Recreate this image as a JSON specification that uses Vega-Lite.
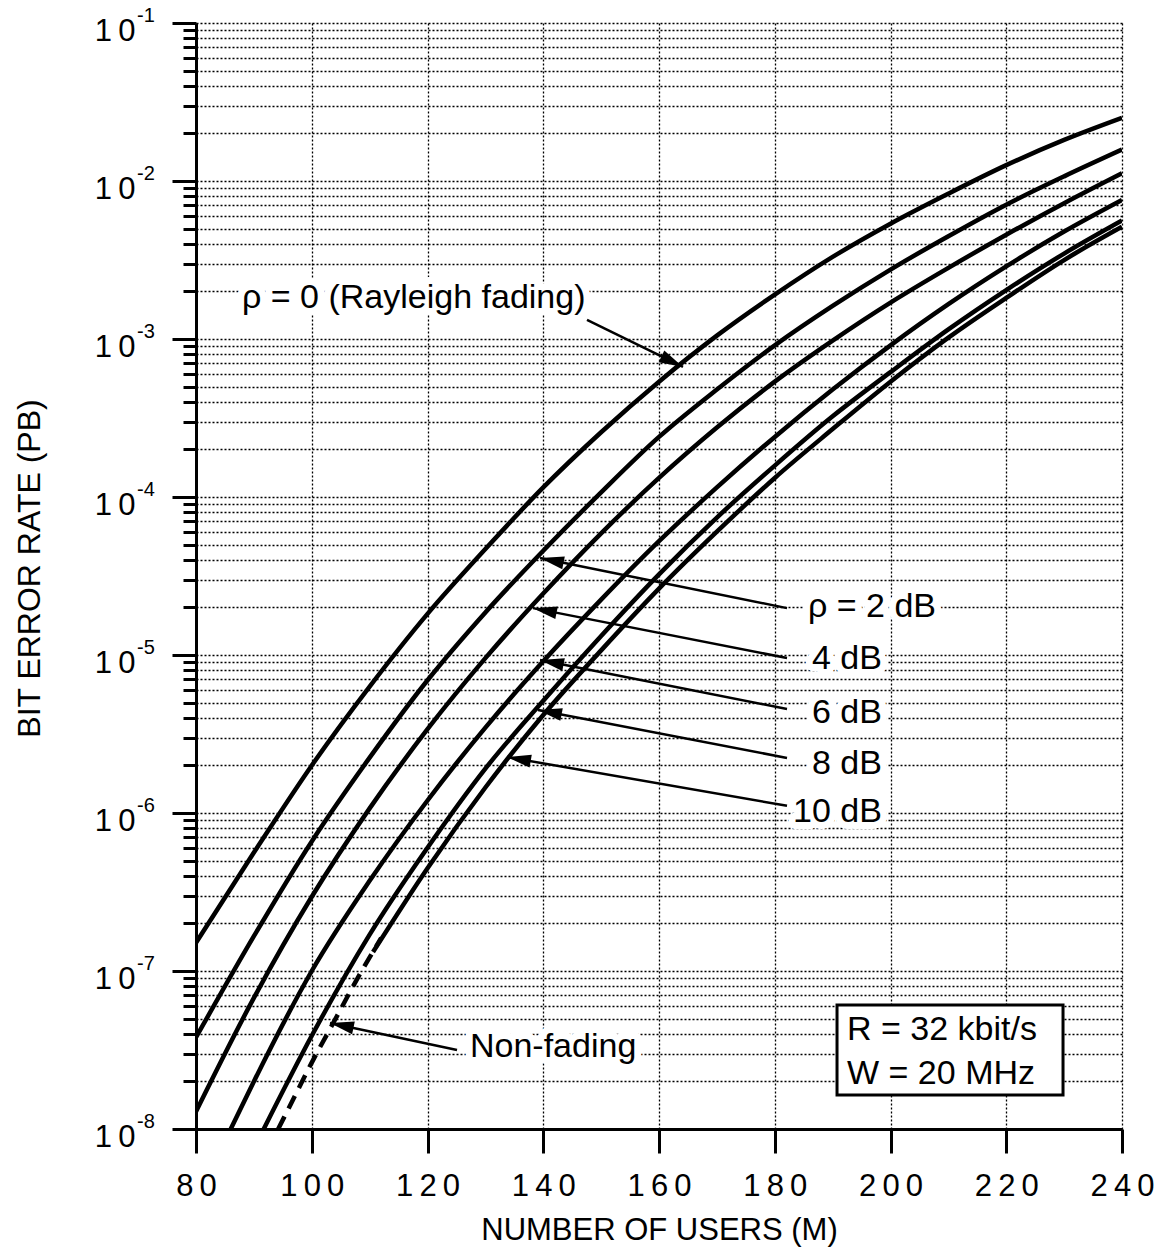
{
  "$schema": "https://vega.github.io/schema/vega-lite/v6.json",
  "width": 926,
  "height": 1106,
  "autosize": {"type": "none"},
  "padding": {"left": 196, "top": 23, "right": 48, "bottom": 125},
  "background": "white",
  "config": {"view": {"stroke": null}, "font": "Liberation Sans"},
  "datasets": {
    "curves": [
      {"s": "Rayleigh", "M": 80, "P": 1.51e-7},
      {"s": "Rayleigh", "M": 90, "P": 5.62e-7},
      {"s": "Rayleigh", "M": 100, "P": 2.00e-6},
      {"s": "Rayleigh", "M": 110, "P": 6.31e-6},
      {"s": "Rayleigh", "M": 120, "P": 1.82e-5},
      {"s": "Rayleigh", "M": 130, "P": 4.68e-5},
      {"s": "Rayleigh", "M": 140, "P": 1.15e-4},
      {"s": "Rayleigh", "M": 150, "P": 2.57e-4},
      {"s": "Rayleigh", "M": 160, "P": 5.37e-4},
      {"s": "Rayleigh", "M": 170, "P": 1.05e-3},
      {"s": "Rayleigh", "M": 180, "P": 1.91e-3},
      {"s": "Rayleigh", "M": 190, "P": 3.31e-3},
      {"s": "Rayleigh", "M": 200, "P": 5.37e-3},
      {"s": "Rayleigh", "M": 210, "P": 8.32e-3},
      {"s": "Rayleigh", "M": 220, "P": 1.26e-2},
      {"s": "Rayleigh", "M": 230, "P": 1.82e-2},
      {"s": "Rayleigh", "M": 240, "P": 2.51e-2},
      {"s": "2 dB", "M": 80, "P": 3.80e-8},
      {"s": "2 dB", "M": 90, "P": 1.66e-7},
      {"s": "2 dB", "M": 100, "P": 6.61e-7},
      {"s": "2 dB", "M": 110, "P": 2.24e-6},
      {"s": "2 dB", "M": 120, "P": 6.92e-6},
      {"s": "2 dB", "M": 130, "P": 1.86e-5},
      {"s": "2 dB", "M": 140, "P": 4.57e-5},
      {"s": "2 dB", "M": 150, "P": 1.07e-4},
      {"s": "2 dB", "M": 160, "P": 2.40e-4},
      {"s": "2 dB", "M": 170, "P": 4.79e-4},
      {"s": "2 dB", "M": 180, "P": 9.12e-4},
      {"s": "2 dB", "M": 190, "P": 1.62e-3},
      {"s": "2 dB", "M": 200, "P": 2.75e-3},
      {"s": "2 dB", "M": 210, "P": 4.47e-3},
      {"s": "2 dB", "M": 220, "P": 7.08e-3},
      {"s": "2 dB", "M": 230, "P": 1.07e-2},
      {"s": "2 dB", "M": 240, "P": 1.58e-2},
      {"s": "4 dB", "M": 80, "P": 1.29e-8},
      {"s": "4 dB", "M": 90, "P": 6.76e-8},
      {"s": "4 dB", "M": 100, "P": 2.95e-7},
      {"s": "4 dB", "M": 110, "P": 1.07e-6},
      {"s": "4 dB", "M": 120, "P": 3.39e-6},
      {"s": "4 dB", "M": 130, "P": 9.55e-6},
      {"s": "4 dB", "M": 140, "P": 2.45e-5},
      {"s": "4 dB", "M": 150, "P": 5.89e-5},
      {"s": "4 dB", "M": 160, "P": 1.32e-4},
      {"s": "4 dB", "M": 170, "P": 2.75e-4},
      {"s": "4 dB", "M": 180, "P": 5.37e-4},
      {"s": "4 dB", "M": 190, "P": 9.77e-4},
      {"s": "4 dB", "M": 200, "P": 1.70e-3},
      {"s": "4 dB", "M": 210, "P": 2.82e-3},
      {"s": "4 dB", "M": 220, "P": 4.57e-3},
      {"s": "4 dB", "M": 230, "P": 7.24e-3},
      {"s": "4 dB", "M": 240, "P": 1.12e-2},
      {"s": "6 dB", "M": 86, "P": 1.00e-8},
      {"s": "6 dB", "M": 90, "P": 2.00e-8},
      {"s": "6 dB", "M": 100, "P": 1.00e-7},
      {"s": "6 dB", "M": 110, "P": 3.72e-7},
      {"s": "6 dB", "M": 120, "P": 1.20e-6},
      {"s": "6 dB", "M": 130, "P": 3.47e-6},
      {"s": "6 dB", "M": 140, "P": 9.12e-6},
      {"s": "6 dB", "M": 150, "P": 2.24e-5},
      {"s": "6 dB", "M": 160, "P": 5.25e-5},
      {"s": "6 dB", "M": 170, "P": 1.15e-4},
      {"s": "6 dB", "M": 180, "P": 2.40e-4},
      {"s": "6 dB", "M": 190, "P": 4.79e-4},
      {"s": "6 dB", "M": 200, "P": 9.12e-4},
      {"s": "6 dB", "M": 210, "P": 1.66e-3},
      {"s": "6 dB", "M": 220, "P": 2.88e-3},
      {"s": "6 dB", "M": 230, "P": 4.79e-3},
      {"s": "6 dB", "M": 240, "P": 7.59e-3},
      {"s": "8 dB", "M": 91.7, "P": 1.00e-8},
      {"s": "8 dB", "M": 100, "P": 3.89e-8},
      {"s": "8 dB", "M": 110, "P": 1.70e-7},
      {"s": "8 dB", "M": 120, "P": 6.03e-7},
      {"s": "8 dB", "M": 130, "P": 1.91e-6},
      {"s": "8 dB", "M": 140, "P": 5.13e-6},
      {"s": "8 dB", "M": 150, "P": 1.32e-5},
      {"s": "8 dB", "M": 160, "P": 3.24e-5},
      {"s": "8 dB", "M": 170, "P": 7.41e-5},
      {"s": "8 dB", "M": 180, "P": 1.58e-4},
      {"s": "8 dB", "M": 190, "P": 3.24e-4},
      {"s": "8 dB", "M": 200, "P": 6.17e-4},
      {"s": "8 dB", "M": 210, "P": 1.15e-3},
      {"s": "8 dB", "M": 220, "P": 2.04e-3},
      {"s": "8 dB", "M": 230, "P": 3.47e-3},
      {"s": "8 dB", "M": 240, "P": 5.62e-3},
      {"s": "10 dB", "M": 110.6, "P": 1.32e-7},
      {"s": "10 dB", "M": 120, "P": 4.47e-7},
      {"s": "10 dB", "M": 130, "P": 1.45e-6},
      {"s": "10 dB", "M": 140, "P": 4.17e-6},
      {"s": "10 dB", "M": 150, "P": 1.07e-5},
      {"s": "10 dB", "M": 160, "P": 2.63e-5},
      {"s": "10 dB", "M": 170, "P": 6.03e-5},
      {"s": "10 dB", "M": 180, "P": 1.32e-4},
      {"s": "10 dB", "M": 190, "P": 2.69e-4},
      {"s": "10 dB", "M": 200, "P": 5.37e-4},
      {"s": "10 dB", "M": 210, "P": 1.02e-3},
      {"s": "10 dB", "M": 220, "P": 1.82e-3},
      {"s": "10 dB", "M": 230, "P": 3.16e-3},
      {"s": "10 dB", "M": 240, "P": 5.13e-3},
      {"s": "Non-fading", "M": 94.2, "P": 1.00e-8},
      {"s": "Non-fading", "M": 96, "P": 1.35e-8},
      {"s": "Non-fading", "M": 100, "P": 2.63e-8},
      {"s": "Non-fading", "M": 104, "P": 4.90e-8},
      {"s": "Non-fading", "M": 108, "P": 9.12e-8},
      {"s": "Non-fading", "M": 112, "P": 1.62e-7}
    ],
    "arrows": [
      {"a": "Rayleigh", "M": 147.56, "P": 1.32e-3, "M2": 164.15, "P2": 6.65e-4},
      {"a": "2 dB", "M": 182.12, "P": 1.98e-5, "M2": 139.44, "P2": 4.11e-5},
      {"a": "4 dB", "M": 182.12, "P": 9.57e-6, "M2": 138.23, "P2": 1.98e-5},
      {"a": "6 dB", "M": 182.12, "P": 4.55e-6, "M2": 139.44, "P2": 9.29e-6},
      {"a": "8 dB", "M": 182.12, "P": 2.23e-6, "M2": 139.09, "P2": 4.49e-6},
      {"a": "10 dB", "M": 182.12, "P": 1.11e-6, "M2": 133.74, "P2": 2.26e-6},
      {"a": "Non-fading", "M": 125.10, "P": 3.16e-8, "M2": 103.15, "P2": 4.69e-8}
    ],
    "labels": [
      {"t": "ρ = 0 (Rayleigh fading)", "M": 87.95, "P": 1.82e-3},
      {"t": "ρ = 2 dB", "M": 185.74, "P": 2.01e-5},
      {"t": "4 dB", "M": 186.43, "P": 9.44e-6},
      {"t": "6 dB", "M": 186.43, "P": 4.30e-6},
      {"t": "8 dB", "M": 186.43, "P": 2.04e-6},
      {"t": "10 dB", "M": 183.15, "P": 1.01e-6},
      {"t": "Non-fading", "M": 127.34, "P": 3.30e-8},
      {"t": "R = 32 kbit/s", "M": 192.49, "P": 4.24e-8},
      {"t": "W = 20 MHz", "M": 192.49, "P": 2.23e-8}
    ],
    "exps": [
      {"P": 0.1, "e": "-1"},
      {"P": 0.01, "e": "-2"},
      {"P": 0.001, "e": "-3"},
      {"P": 0.0001, "e": "-4"},
      {"P": 1e-5, "e": "-5"},
      {"P": 1e-6, "e": "-6"},
      {"P": 1e-7, "e": "-7"},
      {"P": 1e-8, "e": "-8"}
    ],
    "box": [
      {"M": 190.76, "M2": 229.81, "P": 6.10e-8, "P2": 1.64e-8}
    ]
  },
  "layer": [
    {
      "data": {"name": "curves"},
      "transform": [{"filter": "datum.s !== 'Non-fading'"}],
      "mark": {"type": "line", "color": "black", "strokeWidth": 4.5, "interpolate": "monotone", "clip": true},
      "encoding": {
        "x": {
          "field": "M", "type": "quantitative",
          "scale": {"domain": [80, 240], "nice": false, "zero": false},
          "axis": {
            "values": [80, 100, 120, 140, 160, 180, 200, 220, 240],
            "title": "NUMBER OF USERS (M)",
            "titleFont": "Liberation Sans", "titleFontSize": 31, "titleFontWeight": "normal", "titleColor": "black", "titlePadding": 14,
            "labelFont": "Liberation Sans", "labelFontSize": 31, "labelColor": "black", "labelPadding": 18,
            "labelExpr": "length(datum.label) == 2 ? slice(datum.label, 0, 1) + '\u2009' + slice(datum.label, 1) : slice(datum.label, 0, 1) + '\u2009' + slice(datum.label, 1, 2) + '\u2009' + slice(datum.label, 2)",
            "labelFlush": false, "labelOverlap": false,
            "tickSize": 24, "tickWidth": 3, "tickColor": "black",
            "domainWidth": 3, "domainColor": "black",
            "grid": true, "gridColor": "black", "gridDash": [2, 2], "gridWidth": 1.3, "gridOpacity": 1
          }
        },
        "y": {
          "field": "P", "type": "quantitative",
          "scale": {"type": "log", "domain": [1e-8, 0.1], "nice": false},
          "axis": {
            "values": [1e-8, 2e-8, 3e-8, 4e-8, 5e-8, 6e-8, 7e-8, 8e-8, 9e-8,
                       1e-7, 2e-7, 3e-7, 4e-7, 5e-7, 6e-7, 7e-7, 8e-7, 9e-7,
                       1e-6, 2e-6, 3e-6, 4e-6, 5e-6, 6e-6, 7e-6, 8e-6, 9e-6,
                       1e-5, 2e-5, 3e-5, 4e-5, 5e-5, 6e-5, 7e-5, 8e-5, 9e-5,
                       1e-4, 2e-4, 3e-4, 4e-4, 5e-4, 6e-4, 7e-4, 8e-4, 9e-4,
                       1e-3, 2e-3, 3e-3, 4e-3, 5e-3, 6e-3, 7e-3, 8e-3, 9e-3,
                       0.01, 0.02, 0.03, 0.04, 0.05, 0.06, 0.07, 0.08, 0.09, 0.1],
            "title": "BIT ERROR RATE (PB)",
            "titleFont": "Liberation Sans", "titleFontSize": 32, "titleFontWeight": "normal", "titleColor": "black",
            "titleX": -150, "titleY": 545, "titleBaseline": "bottom",
            "labelFont": "Liberation Sans", "labelFontSize": 31, "labelColor": "black", "labelPadding": 37,
            "labelOffset": 8, "labelOverlap": false, "labelFlush": false,
            "labelExpr": "abs(log(datum.value) / LN10 - round(log(datum.value) / LN10)) > 0.01 ? '' : '1\u20090'",
            "tickSize": {"condition": {"test": "abs(log(datum.value) / LN10 - round(log(datum.value) / LN10)) < 0.01", "value": 24}, "value": 13},
            "tickWidth": 3, "tickColor": "black",
            "domainWidth": 3, "domainColor": "black",
            "grid": true, "gridColor": "black", "gridDash": [2, 2], "gridWidth": 1.3, "gridOpacity": 1
          }
        },
        "detail": {"field": "s"}
      }
    },
    {
      "data": {"name": "curves"},
      "transform": [{"filter": "datum.s === 'Non-fading'"}],
      "mark": {"type": "line", "color": "black", "strokeWidth": 4.5, "strokeDash": [14, 9], "interpolate": "monotone", "clip": true},
      "encoding": {
        "x": {"field": "M", "type": "quantitative"},
        "y": {"field": "P", "type": "quantitative"}
      }
    },
    {
      "data": {"name": "box"},
      "mark": {"type": "rect", "fill": "white", "stroke": "black", "strokeWidth": 3},
      "encoding": {
        "x": {"field": "M", "type": "quantitative"},
        "x2": {"field": "M2"},
        "y": {"field": "P", "type": "quantitative"},
        "y2": {"field": "P2"}
      }
    },
    {
      "data": {"name": "arrows"},
      "mark": {"type": "rule", "color": "black", "strokeWidth": 2.5},
      "encoding": {
        "x": {"field": "M", "type": "quantitative"},
        "x2": {"field": "M2"},
        "y": {"field": "P", "type": "quantitative"},
        "y2": {"field": "P2"}
      }
    },
    {
      "data": {"name": "arrows"},
      "transform": [{"calculate": "atan2((datum.M2 - datum.M) * 926 / 160, (log(datum.P2) - log(datum.P)) / LN10 * 1106 / 7) * 180 / PI", "as": "ang"}],
      "mark": {"type": "point", "shape": "M0,0 L-0.27,1 L0.27,1 Z", "size": 2304, "filled": true, "color": "black", "opacity": 1, "strokeWidth": 0},
      "encoding": {
        "x": {"field": "M2", "type": "quantitative"},
        "y": {"field": "P2", "type": "quantitative"},
        "angle": {"field": "ang", "type": "quantitative", "scale": null}
      }
    },
    {
      "data": {"name": "labels"},
      "mark": {"type": "text", "align": "left", "baseline": "middle", "font": "Liberation Sans", "fontSize": 34, "color": "white", "stroke": "white", "strokeWidth": 14, "strokeJoin": "round"},
      "encoding": {
        "x": {"field": "M", "type": "quantitative"},
        "y": {"field": "P", "type": "quantitative"},
        "text": {"field": "t"}
      }
    },
    {
      "data": {"name": "labels"},
      "mark": {"type": "text", "align": "left", "baseline": "middle", "font": "Liberation Sans", "fontSize": 34, "color": "black"},
      "encoding": {
        "x": {"field": "M", "type": "quantitative"},
        "y": {"field": "P", "type": "quantitative"},
        "text": {"field": "t"}
      }
    },
    {
      "data": {"name": "exps"},
      "mark": {"type": "text", "align": "left", "baseline": "middle", "font": "Liberation Sans", "fontSize": 20, "color": "black", "dy": -7, "clip": false},
      "encoding": {
        "x": {"datum": 69.8, "type": "quantitative", "scale": {"domain": [80, 240], "nice": false, "zero": false}},
        "y": {"field": "P", "type": "quantitative", "scale": {"type": "log", "domain": [1e-8, 0.1], "nice": false}},
        "text": {"field": "e"}
      }
    }
  ]
}
